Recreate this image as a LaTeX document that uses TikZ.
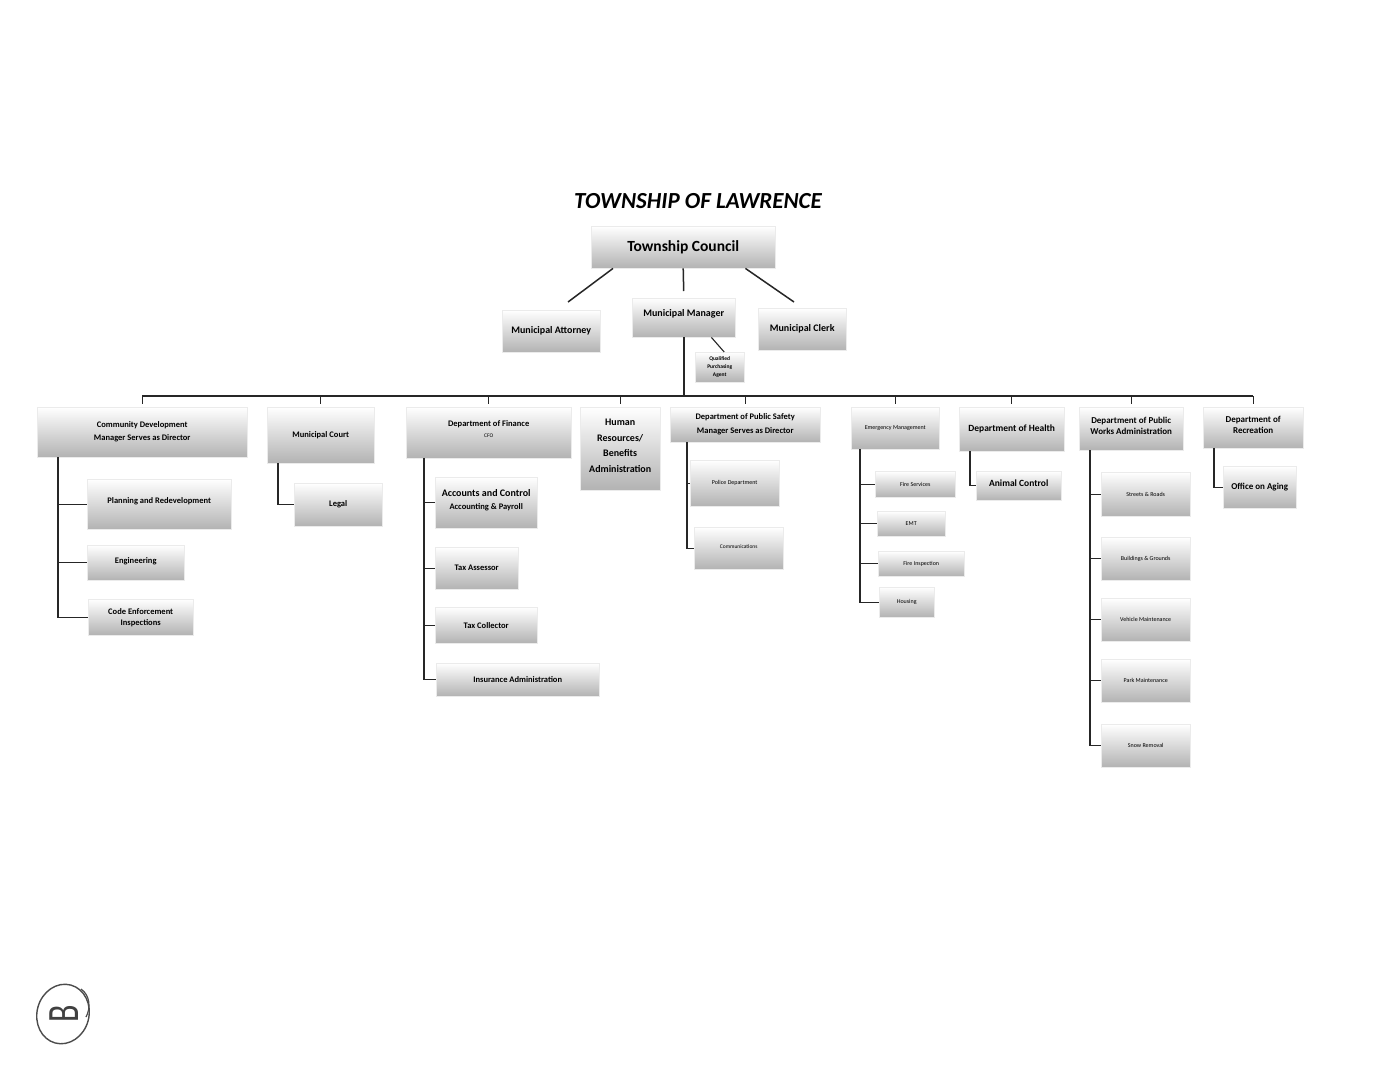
\documentclass[tikz,border=0pt]{standalone}
\usepackage{fontspec}
\setmainfont{Carlito}
\begin{document}
\begin{tikzpicture}[x=1pt,y=-1pt,
  box/.style={top color=white, bottom color=black!30, draw=black!8, align=center, inner sep=1pt, anchor=north west},
  bfa/.style={font=\bfseries\fontsize{8.5}{13}\selectfont},
  bfb/.style={font=\bfseries\fontsize{9.5}{12}\selectfont},
  sm/.style={font=\fontsize{6}{8}\selectfont},
  conn/.style={line width=1.5pt, black!85},
  thin/.style={line width=1.1pt, black!85}]
\useasboundingbox[fill=white] (0,0) rectangle (1394,1080);
% title
\node[font=\bfseries\itshape\fontsize{23}{28}\selectfont] (title) at (698,201) {TOWNSHIP OF LAWRENCE};
% top level
\node[box, minimum width=184pt, minimum height=42pt, font=\bfseries\fontsize{15.5}{18}\selectfont] (council) at (591,226) {Township Council};
\node[box, minimum width=98pt, minimum height=42pt, font=\bfseries\fontsize{10}{12}\selectfont] (attorney) at (502,310) {Municipal Attorney};
\node[box, minimum width=103pt, minimum height=39pt, font=\bfseries\fontsize{10}{12}\selectfont, text depth=9pt] (manager) at (632,298) {Municipal Manager};
\node[box, minimum width=88pt, minimum height=42pt, font=\bfseries\fontsize{10}{12}\selectfont] (clerk) at (758,308) {Municipal Clerk};
\node[box, minimum width=49pt, minimum height=30pt, font=\bfseries\fontsize{5.5}{8}\selectfont] (qpa) at (695,352) {Qualified\\Purchasing\\Agent};
% level 2
\node[box, bfa, minimum width=210pt, minimum height=50pt] (cd) at (37,407) {Community Development\\Manager Serves as Director};
\node[box, bfa, minimum width=107pt, minimum height=56pt] (court) at (267,407) {Municipal Court};
\node[box, minimum width=165pt, minimum height=51pt, text depth=8pt] (fin) at (406,407) {{\bfseries\fontsize{8.5}{12}\selectfont Department of Finance}\\[-1pt]{\fontsize{5.5}{7}\selectfont CFO}};
\node[box, minimum width=80pt, minimum height=83pt, font=\bfseries\fontsize{10}{15.5}\selectfont, text depth=6pt] (hr) at (580,407) {Human\\Resources/\\Benefits\\Administration};
\node[box, bfa, minimum width=150pt, minimum height=35pt, font=\bfseries\fontsize{8.5}{14}\selectfont] (ps) at (670,407) {Department of Public Safety\\Manager Serves as Director};
\node[box, sm, minimum width=88pt, minimum height=42pt] (em) at (851,407) {Emergency Management};
\node[box, bfb, minimum width=105pt, minimum height=44pt] (health) at (959,407) {Department of Health};
\node[box, minimum width=104pt, minimum height=43pt, font=\bfseries\fontsize{9}{10.5}\selectfont, text depth=6pt] (pw) at (1079,407) {Department of Public\\Works Administration};
\node[box, minimum width=100pt, minimum height=41pt, font=\bfseries\fontsize{9}{11}\selectfont, text depth=5pt] (rec) at (1203,407) {Department of\\Recreation};
% children: community development
\node[box, bfa, minimum width=144pt, minimum height=50pt, text depth=8pt] (plan) at (87,479) {Planning and Redevelopment};
\node[box, bfa, minimum width=97pt, minimum height=35pt, text depth=5pt] (eng) at (87,545) {Engineering};
\node[box, minimum width=105pt, minimum height=36pt, font=\bfseries\fontsize{8.5}{11}\selectfont] (code) at (88,599) {Code Enforcement\\Inspections};
% court
\node[box, bfa, minimum width=88pt, minimum height=43pt] (legal) at (294,483) {Legal};
% finance
\node[box, minimum width=102pt, minimum height=51pt, text depth=6pt] (acc) at (435,477) {{\bfseries\fontsize{10}{12}\selectfont Accounts and Control}\\[1pt]{\bfseries\fontsize{8.5}{10}\selectfont Accounting \& Payroll}};
\node[box, bfa, minimum width=83pt, minimum height=42pt] (tassess) at (435,547) {Tax Assessor};
\node[box, bfa, minimum width=102pt, minimum height=36pt] (tcoll) at (435,607) {Tax Collector};
\node[box, bfa, minimum width=163pt, minimum height=33pt] (ins) at (436,663) {Insurance Administration};
% public safety
\node[box, sm, minimum width=89pt, minimum height=46pt] (police) at (690,460) {Police Department};
\node[box, font=\fontsize{5.5}{7}\selectfont, minimum width=89pt, minimum height=42pt, text depth=3pt] (comm) at (694,527) {Communications};
% emergency management
\node[box, sm, minimum width=80pt, minimum height=26pt] (fire) at (875,471) {Fire Services};
\node[box, sm, minimum width=68pt, minimum height=25pt] (emt) at (877,511) {EMT};
\node[box, sm, minimum width=86pt, minimum height=25pt] (finsp) at (878,551) {Fire Inspection};
\node[box, sm, minimum width=55pt, minimum height=30pt] (housing) at (879,587) {Housing};
% health
\node[box, bfb, minimum width=85pt, minimum height=29pt, text depth=5pt] (animal) at (976,471) {Animal Control};
% public works
\node[box, sm, minimum width=89pt, minimum height=44pt] (streets) at (1101,472) {Streets \& Roads};
\node[box, sm, minimum width=89pt, minimum height=43pt] (bldg) at (1101,537) {Buildings \& Grounds};
\node[box, sm, minimum width=89pt, minimum height=43pt] (vehicle) at (1101,598) {Vehicle Maintenance};
\node[box, sm, minimum width=89pt, minimum height=43pt] (park) at (1101,659) {Park Maintenance};
\node[box, sm, minimum width=89pt, minimum height=43pt] (snow) at (1101,724) {Snow Removal};
% recreation
\node[box, minimum width=73pt, minimum height=42pt, font=\bfseries\fontsize{9}{11}\selectfont] (aging) at (1223,466) {Office on Aging};
% connectors top
\coordinate (aEnd) at (568,302);
\coordinate (cEnd) at (794,302);
\coordinate (bus) at (683,396);
\draw[conn] ([xshift=22pt]council.south west) -- (aEnd);
\draw[conn] (council.south) -- ([yshift=7pt]manager.north);
\draw[conn] ([xshift=-30pt]council.south east) -- (cEnd);
\draw[thin] ([xshift=-24pt]manager.south east) -- ([xshift=4.5pt]qpa.north);
\draw[conn, line width=2.4pt] (manager.south) -- (manager.south |- bus);
\draw[conn, line width=2.3pt] (cd.north |- bus) -- (rec.north |- bus);
\foreach \n in {cd,court,fin,hr,ps,em,health,pw,rec}
  \draw[thin] (\n.north |- bus) -- ([yshift=3pt]\n.north);
% children connectors
\foreach \c in {plan,eng,code} \draw[thin] ([xshift=21pt]cd.south west) |- (\c.west);
\draw[thin] ([xshift=11pt]court.south west) |- (legal.west);
\foreach \c in {acc,tassess,tcoll,ins} \draw[thin] ([xshift=18pt]fin.south west) |- (\c.west);
\foreach \c in {police,comm} \draw[thin] ([xshift=17pt]ps.south west) |- (\c.west);
\foreach \c in {fire,emt,finsp,housing} \draw[thin] ([xshift=9pt]em.south west) |- (\c.west);
\draw[thin] ([xshift=11pt]health.south west) |- (animal.west);
\foreach \c in {streets,bldg,vehicle,park,snow} \draw[thin] ([xshift=11pt]pw.south west) |- (\c.west);
\draw[thin] ([xshift=11pt]rec.south west) |- (aging.west);
% handwritten mark
\draw[line width=1.4pt, black!70, rotate around={-15:(63,1014)}] (63,1014) ellipse [x radius=26pt, y radius=30pt];
\draw[line width=1.2pt, black!70] (81,989) .. controls (90,995) and (91,1008) .. (86,1017);
\node[rotate=90, yscale=1.4, font=\fontsize{32}{32}\selectfont, text=black!75] (mark) at (64,1014) {B};
\end{tikzpicture}
\end{document}
